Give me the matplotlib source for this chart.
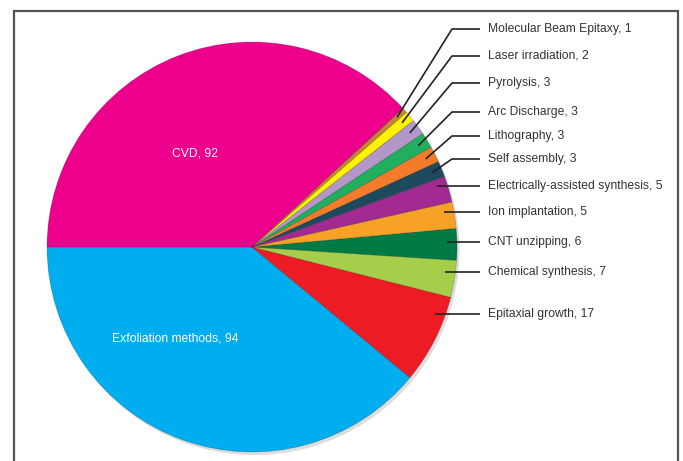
import numpy as np
import matplotlib
matplotlib.use("Agg")
import matplotlib.pyplot as plt
from matplotlib.patches import Rectangle

# slices in drawing order (counter-clockwise from the left)
methods = ["Exfoliation methods", "Epitaxial growth", "Chemical synthesis", "CNT unzipping",
           "Ion implantation", "Electrically-assisted synthesis", "Self assembly", "Lithography",
           "Arc Discharge", "Pyrolysis", "Laser irradiation", "Molecular Beam Epitaxy", "CVD"]
counts = [94, 17, 7, 6, 5, 5, 3, 3, 3, 3, 2, 1, 92]
colors = ["#00AEEF", "#ED1C24", "#A6CE4A", "#007A45", "#F7A126", "#A32A90", "#1E4A5E",
          "#F47B2A", "#20AF5E", "#B497C9", "#FFF200", "#C4852E", "#EC008C"]

plt.rcParams['font.family'] = ['Liberation Sans', 'DejaVu Sans']

W, H = 683, 461
cx, cy, R = 252, 247, 205
fig = plt.figure(figsize=(W / 100, H / 100), dpi=100)
ax = fig.add_axes([0, 0, 1, 1])
ax.axis("off")

# frame around the chart
fig.patches.append(Rectangle((14 / W, -0.05), (678 - 14) / W, 1.05 - 11 / H,
                             transform=fig.transFigure, fill=False,
                             edgecolor="#555555", linewidth=1.6))

# soft shadow
ax.pie(counts, colors=["#00000022"] * len(counts), startangle=180, counterclock=True,
       radius=1.0, center=(0.012, -0.015), wedgeprops=dict(linewidth=0))
wedges, _ = ax.pie(counts, colors=colors, startangle=180, counterclock=True, radius=1.0,
                   wedgeprops=dict(edgecolor="#00000030", linewidth=0.6))
ax.set_xlim(-cx / R, (W - cx) / R)
ax.set_ylim(-(H - cy) / R, cy / R)
ax.set_aspect("equal")

# inner labels
ax.text((195 - cx) / R, (cy - 153) / R, f"{methods[-1]}, {counts[-1]}", color="white",
        fontsize=8.7, ha="center", va="center")
ax.text((175 - cx) / R, (cy - 338) / R, f"{methods[0]}, {counts[0]}", color="white",
        fontsize=8.7, ha="center", va="center")

# outer labels with leader lines
label_y = {"Molecular Beam Epitaxy": 29, "Laser irradiation": 56, "Pyrolysis": 83,
           "Arc Discharge": 112, "Lithography": 136, "Self assembly": 159,
           "Electrically-assisted synthesis": 186, "Ion implantation": 212,
           "CNT unzipping": 242, "Chemical synthesis": 272, "Epitaxial growth": 314}
tx = (488 - cx) / R
hx = (480 - cx) / R
ra = 0.95
for w, name, n in zip(wedges, methods, counts):
    if name not in label_y:
        continue
    ly = (cy - label_y[name]) / R
    y1 = ra * np.sin(np.deg2rad(w.theta1))
    y2 = ra * np.sin(np.deg2rad(w.theta2))
    if y1 + 0.02 < ly < y2 - 0.02:
        ang = np.arcsin(ly / ra)
    else:
        ang = np.deg2rad((w.theta1 + w.theta2) / 2)
    ax_, ay_ = ra * np.cos(ang), ra * np.sin(ang)
    ex = max((452 - cx) / R, ax_ + 0.06)
    ax.plot([ax_, ex, hx], [ay_, ly, ly], color="#222222", lw=1.2, solid_capstyle="butt")
    ax.text(tx, ly, f"{name}, {n}", fontsize=8.7, color="#333333", va="center", ha="left")

fig.savefig("out.png", dpi=100, facecolor="white")
